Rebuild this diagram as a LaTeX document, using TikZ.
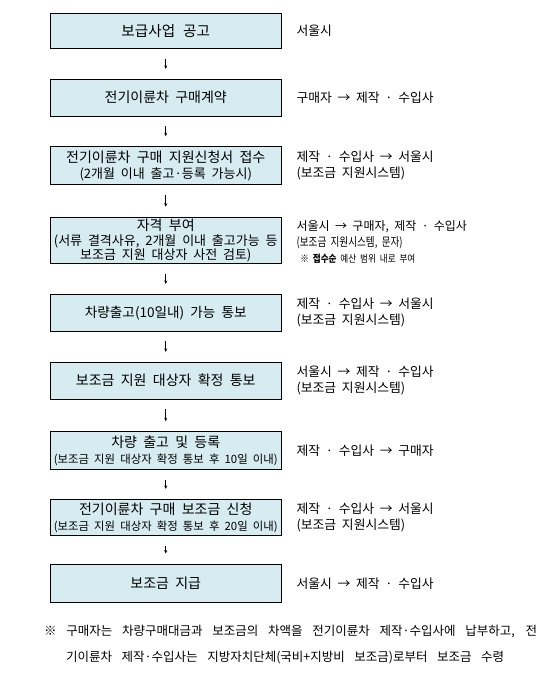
\documentclass[tikz,border=0pt]{standalone}
\usepackage{fontspec}
\setmainfont{Noto Sans CJK KR}[WordSpace=2]
\usetikzlibrary{arrows.meta}
\definecolor{boxfill}{RGB}{214,236,241}
\begin{document}
\begin{tikzpicture}[x=1pt,y=-1pt,
  stepbox/.style={draw=black, line width=0.8pt, fill=boxfill, minimum width=230.5pt, inner sep=0pt, align=center, font=\fontsize{14}{16}\selectfont},
  rt/.style={anchor=west, align=left, inner sep=0pt, font=\fontsize{12.8}{16.5}\selectfont},
  note/.style={anchor=west, inner sep=0pt, font=\fontsize{12.5}{14}\selectfont},
  flow/.style={-{Stealth[length=3.5pt,width=3pt]}, line width=0.6pt, shorten >=10pt, shorten <=10pt}]
\useasboundingbox (0,0) rectangle (552,699);
\fill[white] (0,0) rectangle (552,699);
\newcommand{\smA}{\fontsize{13}{16}\selectfont}
\newcommand{\smB}{\fontsize{13}{16}\selectfont}
\newcommand{\smC}{\fontsize{11.4}{16}\selectfont}
\node[stepbox, minimum height=35pt] (b1) at (165.75,30.8) {\fontsize{14.6}{16}\selectfont 보급사업\hspace{8pt}공고};
\node[stepbox, minimum height=36.7pt] (b2) at (165.75,97.7) {전기이륜차 구매계약};
\node[stepbox, minimum height=37.6pt] (b3) at (165.75,165.5) {전기이륜차 구매 지원신청서 접수\\{\smA (2개월 이내 출고·등록 가능시)}};
\node[stepbox, minimum height=46.7pt] (b4) at (165.75,240.5) {자격 부여\\[-1.5pt]{\smB (서류 결격사유, 2개월 이내 출고가능 등}\\[-1.5pt]{\smB 보조금 지원 대상자 사전 검토)}};
\node[stepbox, minimum height=36.7pt] (b5) at (165.75,312.7) {\fontsize{13.6}{16}\selectfont 차량출고(10일내) 가능 통보};
\node[stepbox, minimum height=36.7pt] (b6) at (165.75,380.7) {보조금 지원 대상자 확정 통보};
\node[stepbox, minimum height=37.6pt] (b7) at (165.75,450.5) {차량 출고 및 등록\\{\smC (보조금 지원 대상자 확정 통보 후 10일 이내)}};
\node[stepbox, minimum height=36.4pt] (b8) at (165.75,517.5) {전기이륜차 구매 보조금 신청\\{\smC (보조금 지원 대상자 확정 통보 후 20일 이내)}};
\node[stepbox, minimum height=38.7pt] (b9) at (165.75,583.3) {보조금 지급};
\foreach \a/\b in {b1/b2,b2/b3,b3/b4,b4/b5,b5/b6,b6/b7,b7/b8,b8/b9}
  \draw[flow] (\a) -- (\b);
\node[rt] (r1) at ([xshift=15pt]b1.east) {서울시};
\node[rt] (r2) at ([xshift=15pt]b2.east) {구매자 → 제작 · 수입사};
\node[rt] (r3) at ([xshift=15pt]b3.east) {제작 · 수입사 → 서울시\\(보조금 지원시스템)};
\node[rt, font=\fontsize{12}{16}\selectfont] (r4) at ([xshift=15pt,yshift=-2pt]b4.east) {서울시 → 구매자, 제작 · 수입사\\\scalebox{0.8}[1]{(보조금 지원시스템, 문자)}\\{\fontsize{10}{14}\selectfont\scalebox{0.86}[1]{\ ※ \textbf{접수순} 예산 범위 내로 부여}}};
\node[rt] (r5) at ([xshift=15pt]b5.east) {제작 · 수입사 → 서울시\\(보조금 지원시스템)};
\node[rt] (r6) at ([xshift=15pt]b6.east) {서울시 → 제작 · 수입사\\(보조금 지원시스템)};
\node[rt] (r7) at ([xshift=15pt]b7.east) {제작 · 수입사 → 구매자};
\node[rt] (r8) at ([xshift=15pt]b8.east) {제작 · 수입사 → 서울시\\(보조금 지원시스템)};
\node[rt] (r9) at ([xshift=15pt]b9.east) {서울시 → 제작 · 수입사};
\node[note] (f1) at (44,632) {\makebox[493pt][s]{※ 구매자는 차량구매대금과 보조금의 차액을 전기이륜차 제작·수입사에 납부하고, 전}};
\node[note] (f2) at (66,658) {\makebox[438pt][s]{기이륜차 제작·수입사는 지방자치단체(국비+지방비 보조금)로부터 보조금 수령}};
\end{tikzpicture}
\end{document}
